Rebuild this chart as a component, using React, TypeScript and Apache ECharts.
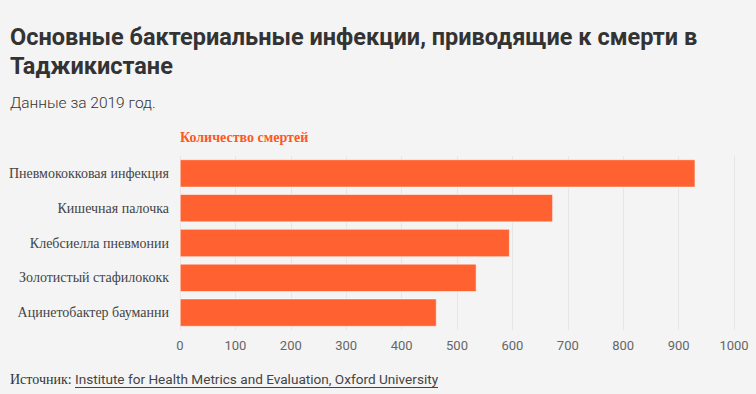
import React, { useEffect, useRef } from "react";
import * as echarts from "echarts";

const categories = [
  "Пневмококковая инфекция",
  "Кишечная палочка",
  "Клебсиелла пневмонии",
  "Золотистый стафилококк",
  "Ацинетобактер бауманни",
];
const deaths = [930, 673, 595, 535, 463];
const seriesName = "Количество смертей";
const titleText = "Основные бактериальные инфекции, приводящие к смерти в\nТаджикистане";
const subtitleText = "Данные за 2019 год.";
const sourceLabel = "Источник: ";
const sourceText = "Institute for Health Metrics and Evaluation, Oxford University";

export default function App() {
  const ref = useRef<HTMLDivElement>(null);
  useEffect(() => {
    if (!ref.current) return;
    const chart = echarts.init(ref.current, undefined, { renderer: "svg" });
    chart.setOption({
      animation: false,
      backgroundColor: "#f4f4f4",
      title: [
        {
          text: titleText,
          left: 10,
          top: 22,
          padding: 0,
          textStyle: {
            fontFamily: "Roboto",
            fontWeight: "bold",
            fontSize: 23.5,
            lineHeight: 29,
            color: "#333333",
          },
        },
        {
          text: subtitleText,
          left: 10,
          top: 95,
          padding: 0,
          textStyle: {
            fontFamily: "Roboto",
            fontWeight: 300,
            fontSize: 15.5,
            color: "#333333",
          },
        },
      ],
      graphic: [
        {
          type: "text",
          left: 180,
          top: 130,
          style: {
            text: seriesName,
            font: "bold 14px 'Liberation Serif'",
            fill: "#ff5722",
          },
        },
        {
          type: "text",
          left: 10,
          top: 372,
          style: {
            text: sourceLabel,
            font: "14px 'Liberation Serif'",
            fill: "#333333",
          },
        },
        {
          type: "text",
          left: 75,
          top: 372,
          style: {
            text: sourceText,
            font: "13.6px Roboto",
            fill: "#444444",
          },
        },
        {
          type: "line",
          shape: { x1: 75, y1: 387.5, x2: 438, y2: 387.5 },
          style: { stroke: "#444444", lineWidth: 1 },
        },
      ],
      grid: { left: 180, right: 22, top: 156, bottom: 64, containLabel: false },
      xAxis: {
        type: "value",
        min: 0,
        max: 1000,
        interval: 100,
        axisLine: { show: false },
        axisTick: { show: false },
        splitLine: { lineStyle: { color: "#e6e6e6" } },
        axisLabel: {
          color: "#666666",
          fontFamily: "Roboto",
          fontSize: 13,
          margin: 9,
          formatter: (v: number) => String(v),
        },
      },
      yAxis: {
        type: "category",
        data: categories,
        inverse: true,
        axisLine: { show: false },
        axisTick: { show: false },
        axisLabel: {
          color: "#444444",
          fontFamily: "Liberation Serif",
          fontSize: 14,
          margin: 11,
        },
      },
      series: [
        {
          type: "bar",
          name: seriesName,
          data: deaths,
          barCategoryGap: "20%",
          itemStyle: {
            color: "#ff6230",
            borderColor: "#ffffff",
            borderWidth: 0.5,
          },
        },
      ],
    });
    return () => chart.dispose();
  }, []);
  return (
    <div
      ref={ref}
      style={{ position: "fixed", left: 0, top: 0, width: 756, height: 394 }}
    />
  );
}
